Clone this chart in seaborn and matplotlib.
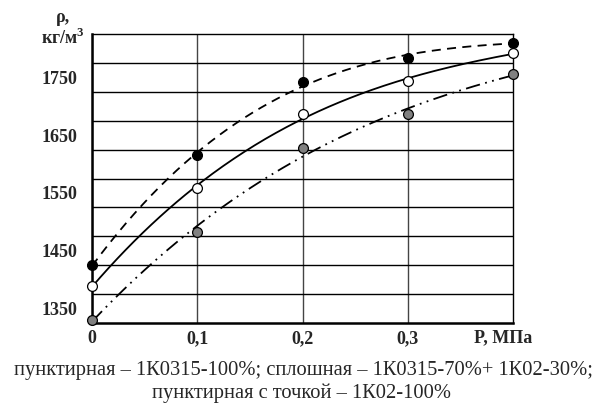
import numpy as np
import pandas as pd
import seaborn as sns
from matplotlib import pyplot as plt
from matplotlib.ticker import MultipleLocator

# pressure, MPa
pressure = [0.0, 0.1, 0.2, 0.3, 0.4]
# density, kg/m3
rho_1k0315 = [1425, 1615, 1742, 1784, 1810]   # dashed, black points
rho_mix = [1389, 1558, 1686, 1743, 1792]      # solid, white points
rho_1k02 = [1330, 1483, 1628, 1686, 1756]     # dash-dot-dot, grey points

x_ticks = [0.0, 0.1, 0.2, 0.3]
x_tick_labels = ['0', '0,1', '0,2', '0,3']
y_ticks = [1350, 1450, 1550, 1650, 1750]

sns.set_style("white")
plt.rcParams['font.family'] = ['Liberation Serif', 'DejaVu Serif']
plt.rcParams['mathtext.fontset'] = 'custom'
plt.rcParams['mathtext.rm'] = 'Liberation Serif'
plt.rcParams['mathtext.bf'] = 'Liberation Serif:bold'

fig = plt.figure(figsize=(6, 4.03), dpi=100)
ax = fig.add_axes([92 / 600, 80 / 403, 421 / 600, 289 / 403])

series = [
    (rho_1k0315, 'black', (0, (5, 3.5))),
    (rho_mix, 'white', '-'),
    (rho_1k02, '#808080', (0, (8, 3, 1, 3, 1, 3))),
]

xs = np.linspace(0, 0.4, 200)
for vals, fill, ls in series:
    # smooth trend curve through the points
    coef = np.polyfit(pressure, vals, 3)
    curve = pd.DataFrame({'P': xs, 'rho': np.polyval(coef, xs)})
    sns.lineplot(data=curve, x='P', y='rho', ax=ax, color='black',
                 linewidth=1.3, linestyle=ls, zorder=3)

for vals, fill, ls in series:
    pts = pd.DataFrame({'P': pressure, 'rho': vals})
    sns.scatterplot(data=pts, x='P', y='rho', ax=ax, color=fill, s=50,
                    edgecolor='black', linewidth=0.9, zorder=4, clip_on=False)

ax.set_xlim(0, 0.4)
ax.set_ylim(1325, 1825)
ax.set_xticks(x_ticks)
ax.set_xticklabels(x_tick_labels)
ax.set_yticks(y_ticks)
ax.set_yticks([1325 + 50 * k for k in range(1, 10)], minor=True)
ax.grid(False)
ax.grid(True, which='minor', axis='y', color='black', linewidth=1.0)
ax.grid(True, which='major', axis='x', color='#444444', linewidth=1.0)
ax.tick_params(which='both', length=0)
ax.tick_params(axis='y', pad=10.8)
ax.tick_params(axis='x', pad=5)
for lab in ax.get_xticklabels() + ax.get_yticklabels():
    lab.set_fontweight('bold')
    lab.set_fontsize(13)

for side in ['top', 'right']:
    ax.spines[side].set_linewidth(1.0)
    ax.spines[side].set_color('black')
for side in ['left', 'bottom']:
    ax.spines[side].set_linewidth(1.8)
    ax.spines[side].set_color('black')

ax.set_xlabel('')
ax.set_ylabel('')

ax.annotate('P, МПа', xy=(0.4, 0), xycoords=('data', 'axes fraction'),
            xytext=(-7, -10.3), textcoords='offset points', ha='center',
            va='center', fontsize=13, fontweight='bold')

fig.text(63 / 600, 1 - 18 / 403, 'ρ,', ha='center', va='center',
         fontsize=13, fontweight='bold')
fig.text(63 / 600, 1 - 38 / 403, r'кг/м$^\mathbf{3}$', ha='center',
         va='center', fontsize=13, fontweight='bold')

fig.text(0.505, 1 - 370 / 403,
         'пунктирная – 1К0315-100%; сплошная – 1К0315-70%+ 1К02-30%;',
         ha='center', va='center', fontsize=14.8)
fig.text(0.503, 1 - 393 / 403, 'пунктирная с точкой – 1К02-100%',
         ha='center', va='center', fontsize=14.8)

plt.savefig('out.png', dpi=100)
